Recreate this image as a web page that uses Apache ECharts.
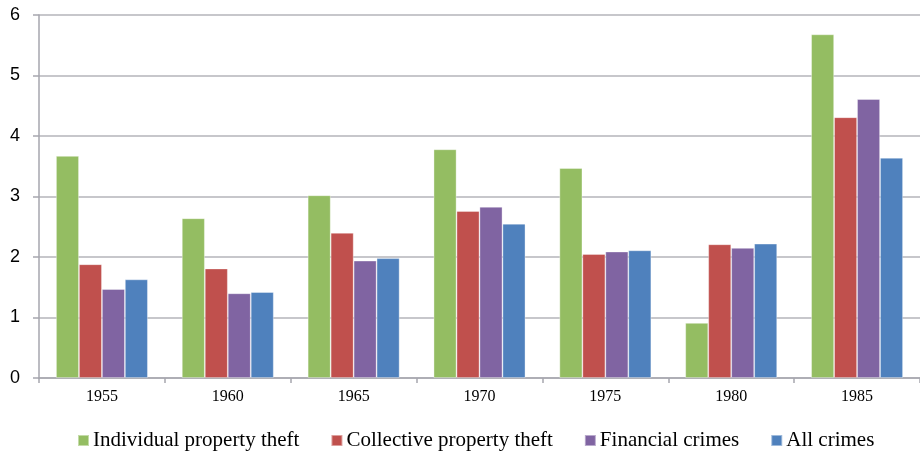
<!DOCTYPE html>
<html>
<head>
<meta charset="utf-8">
<script src="https://cdn.jsdelivr.net/npm/echarts@6/dist/echarts.min.js"></script>
<style>
html,body{margin:0;padding:0;background:#fff;}
#chart{width:920px;height:453px;}
</style>
</head>
<body>
<div id="chart"></div>
<script>
const years = ['1955','1960','1965','1970','1975','1980','1985'];
const seriesNames = ['Individual property theft','Collective property theft','Financial crimes','All crimes'];
const individualTheft = [3.67, 2.64, 3.02, 3.78, 3.47, 0.91, 5.68];
const collectiveTheft = [1.88, 1.81, 2.40, 2.76, 2.05, 2.21, 4.31];
const financialCrimes = [1.47, 1.40, 1.94, 2.83, 2.09, 2.15, 4.61];
const allCrimes = [1.63, 1.42, 1.98, 2.55, 2.11, 2.22, 3.64];
const yTicks = [0, 1, 2, 3, 4, 5, 6];

const colors = ['#94BD62', '#C0504D', '#8064A2', '#4F81BD'];
const values = [individualTheft, collectiveTheft, financialCrimes, allCrimes];

const chart = echarts.init(document.getElementById('chart'), null, {renderer: 'canvas'});
chart.setOption({
  animation: false,
  color: colors,
  grid: {left: 39, right: -6, top: 15, bottom: 75, containLabel: false},
  legend: {
    left: 77, top: 430, padding: 0,
    itemWidth: 11, itemHeight: 11, itemGap: 31,
    icon: 'rect',
    textStyle: {fontFamily: 'Liberation Serif', fontSize: 21, color: '#000', padding: [0, 0, 0, -1]},
    data: seriesNames
  },
  xAxis: {
    type: 'category',
    data: years,
    axisLine: {lineStyle: {color: '#A6A6AE', width: 1.5}},
    axisTick: {show: true, length: 5, lineStyle: {color: '#A6A6AE', width: 1.5}},
    axisLabel: {fontFamily: 'Liberation Serif', fontSize: 16, color: '#000', margin: 11}
  },
  yAxis: {
    type: 'value',
    min: yTicks[0], max: yTicks[yTicks.length - 1], interval: 1,
    axisLine: {show: true, lineStyle: {color: '#A6A6AE', width: 1.5}},
    axisTick: {show: true, length: 6, lineStyle: {color: '#A6A6AE', width: 1.5}},
    splitLine: {lineStyle: {color: '#B4B4BA', width: 1.5}},
    axisLabel: {fontFamily: 'Liberation Sans', fontSize: 18, color: '#000', margin: 19}
  },
  series: seriesNames.map((n, i) => ({
    name: n,
    type: 'bar',
    data: values[i],
    barGap: '0%',
    barCategoryGap: '27%',
    itemStyle: {color: colors[i], borderColor: 'rgba(255,255,255,0.45)', borderWidth: 0.8}
  }))
});
</script>
</body>
</html>
